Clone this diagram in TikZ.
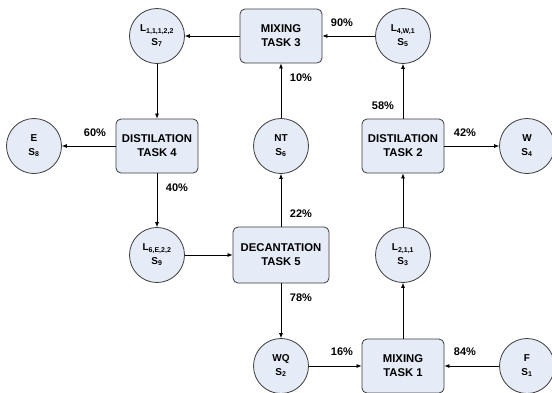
\documentclass[tikz,border=0pt]{standalone}
\usepackage{fontspec}
\setmainfont{Liberation Sans}
\usetikzlibrary{arrows.meta}
\definecolor{boxfill}{RGB}{230,236,247}
\definecolor{boxline}{RGB}{60,60,60}

\begin{document}
\begin{tikzpicture}[x=1pt, y=-1pt,
  task/.style={draw=boxline, fill=boxfill, rounded corners=5pt, line width=0.8pt,
    minimum width=82pt, minimum height=54pt, inner sep=0pt, align=center,
    font=\fontsize{11.3}{14}\selectfont\bfseries},
  stream/.style={circle, draw=boxline, fill=boxfill, line width=0.8pt,
    minimum size=55pt, inner sep=0pt, align=center,
    font=\fontsize{10}{13.5}\selectfont\bfseries},
  flow/.style={-{Latex[length=5pt,width=4pt]}, line width=0.7pt},
  pct/.style={font=\fontsize{11}{12}\selectfont\bfseries}]
  \useasboundingbox (0,0) rectangle (552,392);

  % tasks
  \node[task] (mix3) at (281,36) {MIXING\\TASK 3};
  \node[task] (dist4) at (157,146) {DISTILATION\\TASK 4};
  \node[task] (dist2) at (403,146) {DISTILATION\\TASK 2};
  \node[task, minimum width=96pt, minimum height=56pt] (dec5) at (281,255) {DECANTATION\\TASK 5};
  \node[task] (mix1) at (403,366) {MIXING\\TASK 1};

  % states
  \node[stream] (s7) at (157,36) {L\textsubscript{1,1,1,2,2}\\S\textsubscript{7}};
  \node[stream] (s5) at (403,36) {L\textsubscript{4,W,1}\\S\textsubscript{5}};
  \node[stream] (s8) at (34,146) {E\\S\textsubscript{8}};
  \node[stream] (s6) at (281,146) {NT\\S\textsubscript{6}};
  \node[stream] (s4) at (527,146) {W\\S\textsubscript{4}};
  \node[stream] (s9) at (157,255) {L\textsubscript{6,E,2,2}\\S\textsubscript{9}};
  \node[stream] (s3) at (403,255) {L\textsubscript{2,1,1}\\S\textsubscript{3}};
  \node[stream] (s2) at (281,366) {WQ\\S\textsubscript{2}};
  \node[stream] (s1) at (527,366) {F\\S\textsubscript{1}};

  \foreach \a/\b in {mix3/s7, s5/mix3, s6/mix3, s7/dist4, dist4/s8, dist4/s9,
                     s9/dec5, dec5/s6, dec5/s2, s2/mix1, s1/mix1, mix1/s3,
                     s3/dist2, dist2/s5, dist2/s4}
  {
  \draw[flow] (\a) -- (\b);
  }

  % split fractions
  \node[pct] (p90) at (342,23) {90\%};
  \node[pct] (p10) at (301,78) {10\%};
  \node[pct] (p58) at (383,106) {58\%};
  \node[pct] (p42) at (465,133) {42\%};
  \node[pct] (p60) at (95,133) {60\%};
  \node[pct] (p40) at (177,188) {40\%};
  \node[pct] (p22) at (301,214) {22\%};
  \node[pct] (p78) at (301,298) {78\%};
  \node[pct] (p16) at (342,352) {16\%};
  \node[pct] (p84) at (465,352) {84\%};
\end{tikzpicture}
\end{document}
